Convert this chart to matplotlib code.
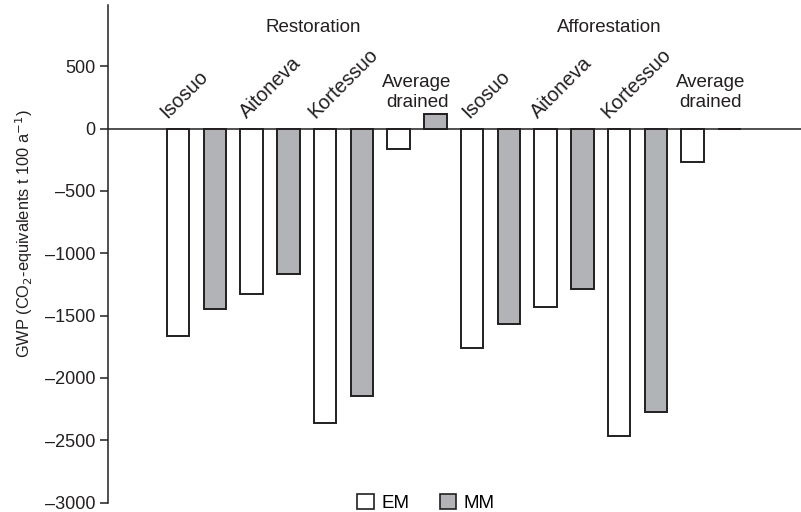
import matplotlib
matplotlib.use("Agg")
import matplotlib.pyplot as plt
from matplotlib.patches import Patch

plt.rcParams['font.family'] = ['Liberation Sans', 'DejaVu Sans']

groups = ["Restoration", "Afforestation"]
sites = ["Isosuo", "Aitoneva", "Kortessuo", "Average\ndrained"]
series = ["EM", "MM"]
em_values = [-1665, -1330, -2365, -165, -1760, -1430, -2465, -266]
mm_values = [-1450, -1170, -2145, 120, -1570, -1290, -2270, -4]
yticks = [500, 0, -500, -1000, -1500, -2000, -2500, -3000]

edge = "#231f20"
gray = "#b1b3b6"

fig = plt.figure(figsize=(8.01, 5.12), dpi=100)
ax = fig.add_axes([108/801, 9.5/512, 1 - 108/801, 497.5/512])

n = len(em_values)
em_x = [2 * i for i in range(n)]
mm_x = [2 * i + 1 for i in range(n)]
w = 0.61
ax.bar(em_x, em_values, width=w, facecolor="white", edgecolor=edge, linewidth=1.4, zorder=3)
ax.bar(mm_x, mm_values, width=w, facecolor=gray, edgecolor=edge, linewidth=1.4, zorder=3)

ax.axhline(0, color=edge, linewidth=1.1, zorder=2)

ax.set_xlim(-1.91, 16.95)
ax.set_ylim(-3000, 992)
ax.set_yticks(yticks)
ax.set_yticklabels([f"{v}".replace("-", "\u2013") for v in yticks], fontsize=13.0, color="#231f20")
ax.tick_params(axis='y', direction='out', length=6, width=1.1, pad=3, color=edge)
ax.set_xticks([])
for s in ["top", "right", "bottom"]:
    ax.spines[s].set_visible(False)
ax.spines["left"].set_linewidth(1.1)
ax.spines["left"].set_color(edge)

ax.set_ylabel("GWP (CO$_2$-equivalents t 100 a$^{-1}$)", fontsize=11.8, color="#231f20", labelpad=8)
ax.yaxis.set_label_coords(-0.105, 0.54)

# rotated site labels
offsets = [-0.3, -0.14, -0.27, -0.08, -0.21, -0.3]
k = 0
for gi in range(len(groups)):
    for si, site in enumerate(sites):
        pos = gi * 8 + si * 2
        if "\n" in site:
            ax.text(pos + 0.5, 140, site, ha="center", va="bottom", fontsize=13.5,
                    linespacing=1.25, color="#231f20")
        else:
            ax.text(pos + offsets[k], 80, site, ha="left", va="baseline", rotation=45,
                    rotation_mode="anchor", fontsize=14.3, color="#231f20")
            k += 1

title_x = [3.68, 11.72]
for gi, g in enumerate(groups):
    ax.text(title_x[gi], 808, g, ha="center", va="center", fontsize=13.5, color="#231f20")

handles = [Patch(facecolor="white", edgecolor=edge, linewidth=1.2, label=series[0]),
           Patch(facecolor=gray, edgecolor=edge, linewidth=1.2, label=series[1])]
fig.legend(handles=handles, loc="center", bbox_to_anchor=(426/801, 1 - 503/512), ncol=2,
           frameon=False, fontsize=13.5, handlelength=0.9, handleheight=0.9,
           handletextpad=0.4, columnspacing=1.6, borderpad=0, borderaxespad=0)

fig.savefig("out.png", dpi=100)
